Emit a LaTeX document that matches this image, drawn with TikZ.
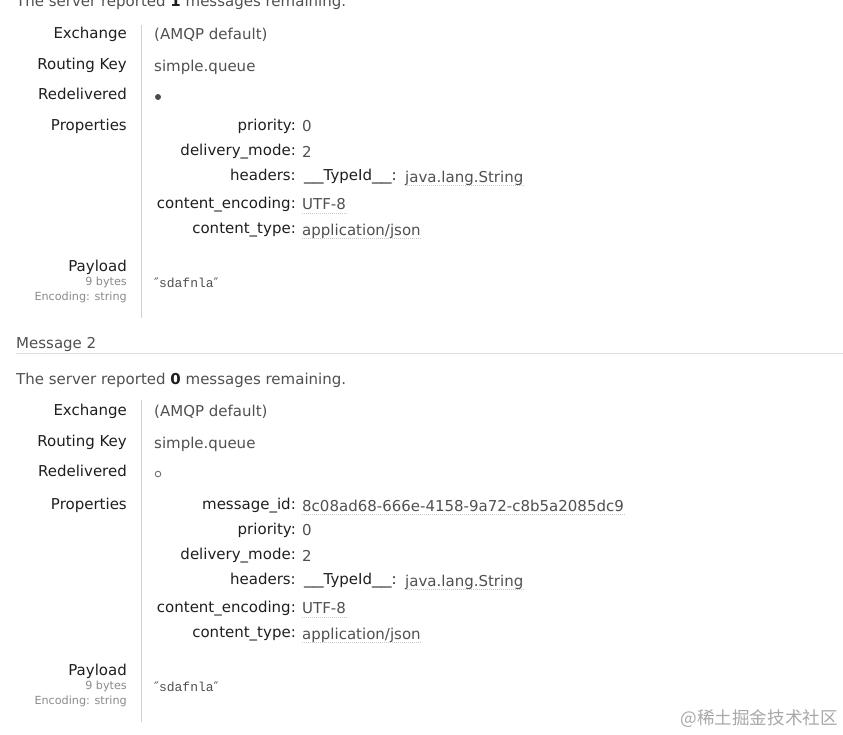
\documentclass[tikz,border=0pt]{standalone}
\usepackage{fontspec}
\usepackage{graphicx}
\setmainfont{DejaVu Sans}
\newfontfamily\monof{Liberation Mono}
\newfontfamily\quof{DejaVu Sans}
\newfontfamily\cjkf{Noto Sans CJK SC}
\definecolor{labc}{HTML}{1E1E1E}
\definecolor{valc}{HTML}{505050}
\definecolor{subc}{HTML}{8A8A8A}
\definecolor{rulec}{HTML}{D0D0D0}
\definecolor{hrulec}{HTML}{E0E0E0}
\definecolor{dotc}{HTML}{C8C8C8}
\definecolor{wmc}{HTML}{A8A8A8}
\newcommand{\msz}{\fontsize{15}{18}\selectfont}
\newcommand{\ssz}{\fontsize{11.2}{13}\selectfont}
\newcommand{\wus}{\scalebox{1.3}[1]{\_\_}}
\newcommand{\dq}{{\quof ″}}
\tikzset{
  x=1pt,y=-1pt,
  lab/.style={anchor=base east,inner sep=0pt,text=labc,font=\msz},
  val/.style={anchor=base west,inner sep=0pt,text=valc,font=\msz},
  pkey/.style={anchor=base east,inner sep=0pt,text=labc,font=\msz},
  sub/.style={anchor=base east,inner sep=0pt,text=subc,font=\ssz},
  mono/.style={anchor=base west,inner sep=0pt,text=valc,font=\monof\fontsize{13}{15}\selectfont},
  dotline/.style={dotc,line width=0.6pt,dash pattern=on 1pt off 1pt},
  vrule/.style={rulec,line width=1pt},
  hrule/.style={hrulec,line width=1pt},
}
\newcommand{\uline}[1]{\draw[dotline] ([yshift=-3.5pt]#1.base west) -- ([yshift=-3.5pt]#1.base east);}
\begin{document}
\begin{tikzpicture}
\useasboundingbox (0,0) rectangle (843,734);
\clip (0,0) rectangle (843,734);
% ---------- message 1 ----------
\node[anchor=base west,inner sep=0pt,text=valc,font=\msz] (top) at (16,6) {The server reported \textcolor{labc}{\textbf{1}} messages remaining.};
\draw[vrule] (141,25) coordinate (v1a) -- (141,318) coordinate (v1b);
\node[lab] (ex1) at (127,38) {Exchange};
\node[val] (exv1) at (154,39.5) {(AMQP default)};
\node[lab] (rk1) at (127,69) {Routing Key};
\node[val] (rkv1) at (154,71) {simple.queue};
\node[lab] (rd1) at (127,99) {Redelivered};
\fill[labc!80] (158,97) circle (3);
\node[lab] (pr1) at (127,130) {Properties};
\node[pkey] (k11) at (296,130) {priority:};
\node[val] (v11) at (302,131.5) {0};
\node[pkey] (k12) at (296,155) {delivery\_mode:};
\node[val] (v12) at (302,157) {2};
\node[pkey] (k13) at (296,180) {headers:};
\node[anchor=base west,inner sep=0pt,text=labc,font=\msz] (h1) at (304,180) {\wus TypeId\wus:};
\node[val] (v13) at (405,182) {java.lang.String};
\node[pkey] (k14) at (296,208) {content\_encoding:};
\node[val] (v14) at (302,209.5) {UTF-8};
\node[pkey] (k15) at (296,233) {content\_type:};
\node[val] (v15) at (302,235) {application/json};
\uline{v13}\uline{v14}\uline{v15}
\node[lab] (pl1) at (127,271) {Payload};
\node[sub] (by1) at (127,285) {9 bytes};
\node[sub] (en1) at (127,300) {Encoding: string};
\node[mono] (pv1) at (154,287) {\dq sdafnla\dq};
% ---------- message 2 ----------
\node[anchor=base west,inner sep=0pt,text=valc,font=\msz] (m2) at (16,348) {Message 2};
\draw[hrule] (16,353) coordinate (h2a) -- (843,353) coordinate (h2b);
\node[anchor=base west,inner sep=0pt,text=valc,font=\msz] (sr2) at (16,384) {The server reported \textcolor{labc}{\textbf{0}} messages remaining.};
\draw[vrule] (141,400) coordinate (v2a) -- (141,722) coordinate (v2b);
\node[lab] (ex2) at (127,415) {Exchange};
\node[val] (exv2) at (154,416.5) {(AMQP default)};
\node[lab] (rk2) at (127,446) {Routing Key};
\node[val] (rkv2) at (154,448) {simple.queue};
\node[lab] (rd2) at (127,476) {Redelivered};
\draw[labc!70,line width=0.8pt] (158,474) circle (2.8);
\node[lab] (pr2) at (127,509) {Properties};
\node[pkey] (k20) at (296,509) {message\_id:};
\node[val] (v20) at (302,511) {8c08ad68-666e-4158-9a72-c8b5a2085dc9};
\node[pkey] (k21) at (296,534) {priority:};
\node[val] (v21) at (302,535.5) {0};
\node[pkey] (k22) at (296,559) {delivery\_mode:};
\node[val] (v22) at (302,561) {2};
\node[pkey] (k23) at (296,584) {headers:};
\node[anchor=base west,inner sep=0pt,text=labc,font=\msz] (h2) at (304,584) {\wus TypeId\wus:};
\node[val] (v23) at (405,586) {java.lang.String};
\node[pkey] (k24) at (296,612) {content\_encoding:};
\node[val] (v24) at (302,613.5) {UTF-8};
\node[pkey] (k25) at (296,637) {content\_type:};
\node[val] (v25) at (302,639) {application/json};
\uline{v20}\uline{v23}\uline{v24}\uline{v25}
\node[lab] (pl2) at (127,675) {Payload};
\node[sub] (by2) at (127,689) {9 bytes};
\node[sub] (en2) at (127,704) {Encoding: string};
\node[mono] (pv2) at (154,691) {\dq sdafnla\dq};
% ---------- watermark ----------
\node[anchor=base east,inner sep=0pt,text=wmc,font=\cjkf\fontsize{17.6}{19}\selectfont] (wm) at (838,724) {@稀土掘金技术社区};
\end{tikzpicture}
\end{document}
